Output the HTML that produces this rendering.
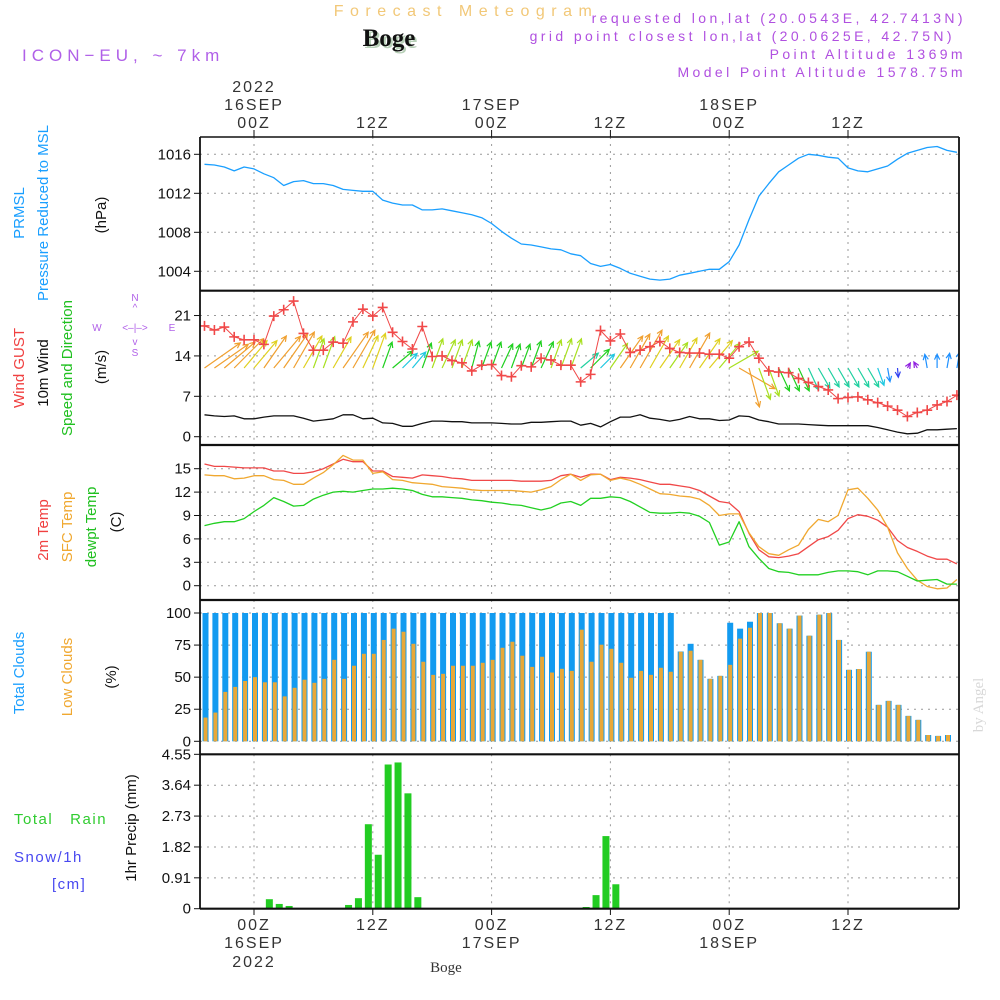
<!DOCTYPE html>
<html><head><meta charset="utf-8"><title>Forecast Meteogram Boge</title>
<style>
html,body{margin:0;padding:0;background:#fff;}
svg{display:block;font-family:"Liberation Sans",sans-serif;}
.tk{font-size:15px;fill:#111;text-anchor:end;}
.tl{font-size:16px;fill:#333;text-anchor:middle;letter-spacing:2px;}
.vl{font-size:15px;text-anchor:middle;}
</style></head>
<body>
<svg id="chart" width="1000" height="1000" viewBox="0 0 1000 1000" xmlns="http://www.w3.org/2000/svg">
<text x="466" y="16" style="font-size:16px;fill:#f2c878;letter-spacing:6.5px;" text-anchor="middle">Forecast Meteogram</text>
<text x="391" y="48" style="font-family:'Liberation Serif',serif;font-size:25px;font-weight:bold;fill:#b8d0b8;" text-anchor="middle">Boge</text>
<text x="389" y="46" style="font-family:'Liberation Serif',serif;font-size:25px;font-weight:bold;fill:#111;" text-anchor="middle">Boge</text>
<text x="22" y="61" style="font-size:17px;fill:#b060e8;letter-spacing:5px;">ICON−EU, ~ 7km</text>
<g style="font-size:14px;fill:#b050e0;letter-spacing:3.4px;" text-anchor="end">
<text x="966" y="23">requested lon,lat (20.0543E, 42.7413N)</text>
<text x="955" y="41">grid point closest lon,lat (20.0625E, 42.75N)</text>
<text x="966" y="59">Point Altitude 1369m</text>
<text x="966" y="77">Model Point Altitude 1578.75m</text>
</g>
<g class="vl">
<text transform="translate(24,213) rotate(-90)" fill="#1a9fff">PRMSL</text>
<text transform="translate(48,213) rotate(-90)" fill="#1a9fff">Pressure Reduced to MSL</text>
<text transform="translate(106,215) rotate(-90)" fill="#111">(hPa)</text>
<text transform="translate(24,368) rotate(-90)" fill="#f04040">Wind GUST</text>
<text transform="translate(48,373) rotate(-90)" fill="#111">10m Wind</text>
<text transform="translate(72,368) rotate(-90)" fill="#20c020">Speed and Direction</text>
<text transform="translate(106,367) rotate(-90)" fill="#111">(m/s)</text>
<text transform="translate(48,530) rotate(-90)" fill="#f04040">2m Temp</text>
<text transform="translate(72,527) rotate(-90)" fill="#f0a830">SFC Temp</text>
<text transform="translate(96,527) rotate(-90)" fill="#20c020">dewpt Temp</text>
<text transform="translate(121,522) rotate(-90)" fill="#111">(C)</text>
<text transform="translate(24,673) rotate(-90)" fill="#1a9fff">Total Clouds</text>
<text transform="translate(72,677) rotate(-90)" fill="#f0a830">Low Clouds</text>
<text transform="translate(116,677) rotate(-90)" fill="#111">(%)</text>
<text transform="translate(136,828) rotate(-90)" fill="#111">1hr Precip (mm)</text>
</g>
<g style="font-size:15px;letter-spacing:1.5px;">
<text x="14" y="824" fill="#30cc30">Total&#160;&#160;&#160;Rain</text>
<text x="14" y="862" fill="#4848f0">Snow/1h</text>
<text x="52" y="889" fill="#4848f0">[cm]</text>
</g>
<g style="font-size:10px;fill:#b060e8;" text-anchor="middle">
<text x="135" y="301">N</text>
<text x="135" y="311">^</text>
<text x="135" y="331">&lt;&#8211;|&#8211;&gt;</text>
<text x="97" y="331">W</text>
<text x="172" y="331">E</text>
<text x="135" y="345">v</text>
<text x="135" y="356">S</text>
</g>
<text transform="translate(983,705) rotate(-90)" style="font-family:'Liberation Serif',serif;font-size:15px;fill:#d8d8d8;" text-anchor="middle">by Angel</text>
<text x="446" y="972" style="font-family:'Liberation Serif',serif;font-size:15px;fill:#333;" text-anchor="middle">Boge</text>
<g id="plot"></g>
</svg>
<script>
// ---------- data (hourly, hour 0 = 00Z 16SEP) ----------
const hours = [];
for (let h = -5; h <= 71; h++) hours.push(h);
const pressure = [1014.97,1014.9,1014.7,1014.3,1014.7,1014.5,1014.0,1013.6,1012.8,1013.2,1013.3,1013.0,1013.0,1012.8,1012.4,1012.3,1012.2,1012.2,1011.3,1011.0,1010.8,1010.8,1010.3,1010.3,1010.4,1010.2,1010.0,1009.8,1009.5,1008.9,1008.1,1007.4,1006.8,1006.7,1006.5,1006.3,1006.2,1005.8,1005.6,1004.8,1004.5,1004.7,1004.3,1003.8,1003.5,1003.2,1003.1,1003.2,1003.6,1003.8,1004.0,1004.2,1004.2,1005.0,1006.7,1009.3,1011.7,1013.0,1014.2,1014.9,1015.6,1016.0,1015.9,1015.7,1015.6,1014.6,1014.3,1014.2,1014.5,1014.8,1015.5,1016.1,1016.4,1016.7,1016.8,1016.4,1016.2];
const gust = [19.2,18.5,19.0,17.3,16.8,16.8,16.0,20.9,22.0,23.5,17.9,15.0,15.0,16.4,16.2,19.9,22.1,20.9,22.4,18.1,16.5,15.2,19.1,13.9,14.0,13.2,12.8,11.4,12.4,12.5,10.6,10.4,12.3,12.1,13.6,13.3,12.4,12.4,9.5,10.8,18.4,16.6,17.8,14.6,15.0,15.6,16.5,15.3,14.6,14.5,14.5,14.3,14.3,13.6,15.6,16.4,13.6,11.4,11.2,11.1,10.1,9.4,8.7,8.1,6.6,6.8,6.9,6.4,5.9,5.3,4.6,3.5,4.2,4.6,5.5,6.1,7.2];
const windSpeed = [3.8,3.6,3.5,3.6,3.1,3.1,3.4,3.6,3.6,3.6,3.2,2.7,2.9,3.1,3.8,3.8,3.1,3.2,2.4,2.3,1.8,1.8,2.3,2.7,2.7,2.6,2.6,2.4,2.4,2.4,2.3,2.2,2.2,2.5,2.5,2.6,2.7,2.7,2.0,2.3,1.7,2.6,3.4,3.4,3.8,3.2,3.0,2.7,3.0,3.5,3.1,3.1,2.8,2.9,3.6,3.5,2.9,2.6,2.2,2.2,2.2,2.1,2.0,1.9,1.9,1.9,1.9,1.9,1.6,1.2,0.8,0.5,0.6,1.2,1.2,1.3,1.4];
const windDir = [55,55,50,45,40,40,35,40,35,30,30,20,20,30,35,30,25,20,20,50,45,40,20,20,25,20,20,15,20,20,25,20,20,20,25,20,20,20,50,45,45,35,35,30,30,30,35,35,30,30,35,40,40,60,120,165,160,160,155,155,155,155,150,150,150,150,150,150,160,170,175,30,-30,-10,0,10,10];
const temp2m = [15.6,15.3,15.3,15.2,15.1,15.1,15.1,14.7,14.7,14.4,14.4,14.6,15.0,15.6,16.2,15.9,15.9,14.7,14.7,14.0,13.9,13.8,14.2,14.1,14.0,13.8,13.7,13.5,13.5,13.5,13.5,13.5,13.4,13.4,13.4,13.5,14.1,14.3,13.9,14.3,14.3,13.6,13.9,13.8,13.6,13.3,13.0,13.0,12.8,12.6,12.2,11.5,10.8,10.6,9.5,6.7,4.6,3.7,3.6,3.8,4.1,5.0,5.9,6.3,7.1,8.6,9.1,8.9,8.4,7.5,5.8,4.9,4.4,3.8,3.4,3.4,2.8];
const tempSfc = [14.2,14.1,14.1,13.7,13.8,14.1,14.1,13.6,13.5,13.0,13.0,13.8,14.5,15.5,16.7,16.1,16.1,14.4,14.6,13.6,13.5,13.2,13.1,13.0,12.7,12.6,12.5,12.3,12.2,12.2,12.2,12.2,12.1,12.0,12.3,12.7,13.6,14.3,13.5,14.2,14.3,13.5,13.8,13.5,13.0,12.4,11.8,11.7,11.5,11.4,11.1,10.3,9.0,9.2,9.2,6.8,5.0,4.1,3.9,4.6,5.2,7.2,8.5,8.2,9.0,12.3,12.5,11.2,9.7,7.5,4.2,2.2,0.7,-0.1,-0.4,-0.3,0.8];
const dewpoint = [7.7,8.0,8.2,8.2,8.6,9.5,10.3,11.3,10.8,10.2,10.3,11.1,11.6,12.0,12.1,12.0,12.2,12.4,12.4,12.5,12.4,12.2,11.7,11.4,11.4,11.3,11.2,11.0,10.9,10.7,10.6,10.4,10.3,10.0,9.7,10.0,10.6,10.8,10.3,11.2,11.2,11.4,11.3,10.8,10.1,9.4,9.3,9.3,9.4,9.3,8.9,8.1,5.2,5.6,8.2,5.0,3.5,2.2,1.8,1.7,1.4,1.4,1.4,1.7,1.9,1.9,1.8,1.4,1.9,1.9,1.8,1.2,0.6,0.7,0.8,0.2,0.2];
const totalClouds = [100,100,100,100,100,100,100,100,100,100,100,100,100,100,100,100,100,100,100,100,100,100,100,100,100,100,100,100,100,100,100,100,100,100,100,100,100,100,100,100,100,100,100,100,100,100,100,100,70,76,63.5,48.7,51,92.4,87.8,93.2,100,100,92,87.8,98,82.3,98.7,100,79,55.7,56.3,69.8,28.4,31.5,28.4,19.8,16.7,4.9,4.2,4.9,0];
const lowClouds = [18.5,22.4,38.5,42.4,47,50,46,46,35,41.7,48,45.6,48.7,63.5,48.7,58.9,68.2,68.2,79,87.8,85.4,76,62,51.8,52.6,58.9,58.9,58.9,61.2,63.5,72.9,77.6,66.7,58,65.9,53.6,56.5,54.9,87,62,75.3,72.1,61.2,49.5,54.9,51.8,57.3,54.2,69.8,70.6,63.5,48.7,51,59.6,80,88.5,100,100,92,87.8,98,82.3,98.7,100,79,55.7,56.3,69.8,28.4,31.5,28.4,19.8,16.7,4.9,4.2,4.9,0];
const precipHours = [2,3,4,10,11,12,13,14,15,16,17,34,35,36,37];
const precip = [0.28,0.14,0.08,0.11,0.31,2.49,1.59,4.25,4.31,3.40,0.34,0.05,0.40,2.14,0.72];
const pressTicks = [1004,1008,1012,1016];
const windTicks = [0,7,14,21];
const tempTicks = [0,3,6,9,12,15];
const cloudTicks = [0,25,50,75,100];
const precipTicks = ["0","0.91","1.82","2.73","3.64","4.55"];
const timeTickHours = [0,12,24,36,48,60];
const timeTickLabels = ["00Z","12Z","00Z","12Z","00Z","12Z"];
const dateLabels = ["16SEP","","17SEP","","18SEP",""];

// ---------- layout ----------
const NS = "http://www.w3.org/2000/svg";
const plot = document.getElementById("plot");
const L = 200, R = 959;
const x = h => 254 + h * 9.9;
const panels = {
  press: {top:137, bot:290.7, y: v => 154.3 + (1016 - v) * 9.75},
  wind:  {top:290.7, bot:445, y: v => 436.7 - v * 5.77},
  temp:  {top:445, bot:600, y: v => 585.7 - v * 7.8},
  cloud: {top:600, bot:754.3, y: v => 741.3 - v * 1.283},
  precip:{top:754.3, bot:908.7, y: v => 908.7 - v * 33.93}
};
function mk(tag, attrs, parent) {
  const el = document.createElementNS(NS, tag);
  for (const k in attrs) el.setAttribute(k, attrs[k]);
  (parent || plot).appendChild(el);
  return el;
}
const defs = mk("defs", {});
const cp = mk("clipPath", {id: "clip"}, defs);
mk("rect", {x: L, y: 137, width: R - L, height: 772}, cp);

function gridPanel(p, name, ticks, labels) {
  const g = mk("g", {});
  
  
  ticks.forEach((t, i) => {
    const yy = p.y(+t);
    const ln = mk("line", {x1: L, x2: R, y1: yy, y2: yy, stroke: "#999", "stroke-dasharray": "2,5", "stroke-width": 1}, g);
    
    
    const tk = mk("line", {x1: L - 6, x2: L, y1: yy, y2: yy, stroke: "#111", "stroke-width": 1}, g);
    
    
    const tx = mk("text", {x: L - 9, y: yy + 5, class: "tk"}, g);
    tx.textContent = labels ? labels[i] : String(t);
    
    
  });
  timeTickHours.forEach(h => {
    const vl = mk("line", {x1: x(h), x2: x(h), y1: p.top, y2: p.bot, stroke: "#999", "stroke-dasharray": "2,5", "stroke-width": 1}, g);
    
    
  });
}
gridPanel(panels.press, "pressure", pressTicks);
gridPanel(panels.wind, "wind", windTicks);
gridPanel(panels.temp, "temp", tempTicks);
gridPanel(panels.cloud, "cloud", cloudTicks);
gridPanel(panels.precip, "precip", precipTicks.map(Number), precipTicks);

const data = mk("g", {"clip-path": "url(#clip)"});



function line(arr, p, color, name, w) {
  const d = arr.map((v, i) => (i ? "L" : "M") + x(hours[i]).toFixed(1) + "," + p.y(v).toFixed(1)).join("");
  const el = mk("path", {d: d, fill: "none", stroke: color, "stroke-width": w || 1.3, "stroke-linejoin": "round"}, data);
  
  
}
totalClouds.forEach((v, i) => {
  if (v <= 0) return;
  const xc = x(hours[i]) + 1;
  const b = mk("rect", {x: xc - 3, y: panels.cloud.y(v), width: 6, height: panels.cloud.y(0) - panels.cloud.y(v), fill: "#139bf0"}, data);
  
  
});
lowClouds.forEach((v, i) => {
  if (v <= 0) return;
  const xc = x(hours[i]) + 1;
  const b = mk("rect", {x: xc - 2, y: panels.cloud.y(v), width: 4, height: panels.cloud.y(0) - panels.cloud.y(v), fill: "#e8a838"}, data);
  
  
});
precip.forEach((v, i) => {
  const xc = x(precipHours[i] - 0.45);
  const b = mk("rect", {x: xc - 3.5, y: panels.precip.y(v), width: 7, height: panels.precip.y(0) - panels.precip.y(v), fill: "#22cc22"}, data);
  
  
});
line(pressure, panels.press, "#1a9fff", "pressure-line");
line(windSpeed, panels.wind, "#111", "wind-speed-line");
line(temp2m, panels.temp, "#f04848", "temp-2m-line");
line(tempSfc, panels.temp, "#f0a830", "temp-sfc-line");
line(dewpoint, panels.temp, "#22d022", "dewpoint-line");
function arrowColor(s) {
  if (s >= 3.4) return "#f0a030";
  if (s >= 3.0) return "#e0d020";
  if (s >= 2.6) return "#a8e020";
  if (s >= 2.2) return "#20d020";
  if (s >= 1.9) return "#20d0a0";
  if (s >= 1.5) return "#20c8e0";
  if (s >= 1.0) return "#1e90ff";
  if (s >= 0.7) return "#3040f0";
  return "#9020e0";
}
const baseY = 368;
windDir.forEach((dir, i) => {
  const s = windSpeed[i];
  const len = s * 11.5;
  const a = dir * Math.PI / 180;
  const x0 = x(hours[i]), x1 = x0 + Math.sin(a) * len, y1 = baseY - Math.cos(a) * len;
  const col = arrowColor(s);
  const h1 = a + Math.PI - 0.45, h2 = a + Math.PI + 0.45;
  const d = "M" + x0.toFixed(1) + "," + baseY + "L" + x1.toFixed(1) + "," + y1.toFixed(1) +
    "M" + (x1 + Math.sin(h1) * 6).toFixed(1) + "," + (y1 - Math.cos(h1) * 6).toFixed(1) + "L" + x1.toFixed(1) + "," + y1.toFixed(1) +
    "L" + (x1 + Math.sin(h2) * 6).toFixed(1) + "," + (y1 - Math.cos(h2) * 6).toFixed(1);
  const el = mk("path", {d: d, fill: "none", stroke: col, "stroke-width": 1.2}, data);
  
  
});
line(gust, panels.wind, "#f04848", "gust-line", 1);
gust.forEach((v, i) => {
  const xc = x(hours[i]), yc = panels.wind.y(v);
  const m = mk("path", {d: "M" + (xc - 5) + "," + yc + "h10M" + xc + "," + (yc - 5) + "v10", stroke: "#f04848", "stroke-width": 1.6}, data);
  
  
});
[137, 290.7, 445, 600, 754.3, 908.7].forEach((yy, i) => {
  const b = mk("line", {x1: L, x2: R, y1: yy, y2: yy, stroke: "#111", "stroke-width": i === 0 ? 1.5 : 2.2});
  
  
});
[L, R].forEach(xx => {
  const b = mk("line", {x1: xx, x2: xx, y1: 137, y2: 908.7, stroke: "#111", "stroke-width": 1.8});
  
  
});
timeTickHours.forEach((h, i) => {
  const xx = x(h);
  const t1 = mk("line", {x1: xx, x2: xx, y1: 130, y2: 137, stroke: "#111"});
  
  
  const t2 = mk("line", {x1: xx, x2: xx, y1: 908.7, y2: 915, stroke: "#111"});
  
  
  const a = mk("text", {x: xx, y: 128, class: "tl"});
  a.textContent = timeTickLabels[i];
  
  
  const b = mk("text", {x: xx, y: 930, class: "tl"});
  b.textContent = timeTickLabels[i];
  
  
  if (dateLabels[i]) {
    const c = mk("text", {x: xx, y: 110, class: "tl"});
    c.textContent = dateLabels[i];
    
    
    const d = mk("text", {x: xx, y: 948, class: "tl"});
    d.textContent = dateLabels[i];
    
    
  }
});
const y1 = mk("text", {x: x(0), y: 92, class: "tl"});
y1.textContent = "2022";


const y2 = mk("text", {x: x(0), y: 967, class: "tl"});
y2.textContent = "2022";


</script>
</body></html>
